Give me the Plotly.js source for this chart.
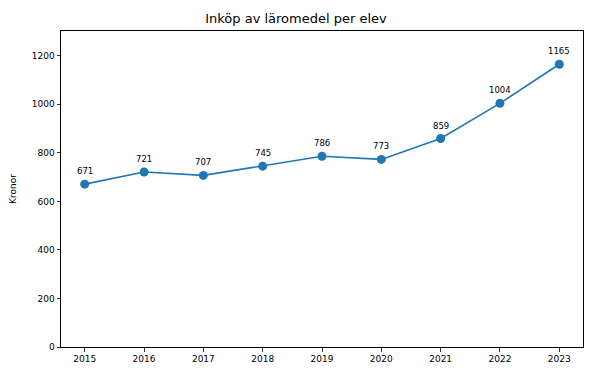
<!DOCTYPE html>
<html><head><meta charset="utf-8">
<script src="https://cdn.plot.ly/plotly-3.0.1.min.js"></script>
<style>html,body{margin:0;padding:0;background:#fff}#c{width:592px;height:375px}</style>
</head><body><div id="c"></div>
<script>
const years = [2015, 2016, 2017, 2018, 2019, 2020, 2021, 2022, 2023];
const values = [671, 721, 707, 745, 786, 773, 859, 1004, 1165];
const yTicks = [0, 200, 400, 600, 800, 1000, 1200];
const FONT = 'DejaVu Sans, sans-serif';
const annotations = years.map((x, i) => ({
  x: x, y: values[i], xref: 'x', yref: 'y', text: String(values[i]),
  showarrow: false, yshift: 13, font: {family: FONT, size: 8.5, color: '#000'}
}));
Plotly.newPlot('c', [{
  x: years, y: values, type: 'scatter', mode: 'lines+markers',
  line: {color: '#1f77b4', width: 1.6},
  marker: {color: '#1f77b4', size: 9}
}], {
  width: 592, height: 375,
  margin: {l: 61, r: 9, t: 31, b: 28},
  paper_bgcolor: '#fff', plot_bgcolor: '#fff',
  showlegend: false,
  title: {text: 'Inköp av läromedel per elev', x: 0.5, xanchor: 'center', y: 0.952, yanchor: 'middle', font: {family: FONT, size: 13, color: '#000'}},
  xaxis: {range: [2014.6, 2023.4], tickvals: years, ticktext: years.map(String), showgrid: false, zeroline: false,
    showline: true, mirror: true, linecolor: '#000', linewidth: 1, ticks: 'outside', ticklen: 3.5, tickwidth: 0.8, tickcolor: '#000',
    tickfont: {family: FONT, size: 9, color: '#000'}},
  yaxis: {range: [0, 1302], tickvals: yTicks, showgrid: false, zeroline: false,
    showline: true, mirror: true, linecolor: '#000', linewidth: 1, ticks: 'outside', ticklen: 3.5, tickwidth: 0.8, tickcolor: '#000',
    tickfont: {family: FONT, size: 9, color: '#000'},
    title: {text: 'Kronor', font: {family: FONT, size: 9, color: '#000'}, standoff: 13}},
  annotations: annotations
}, {displayModeBar: false, staticPlot: true});
</script></body></html>
